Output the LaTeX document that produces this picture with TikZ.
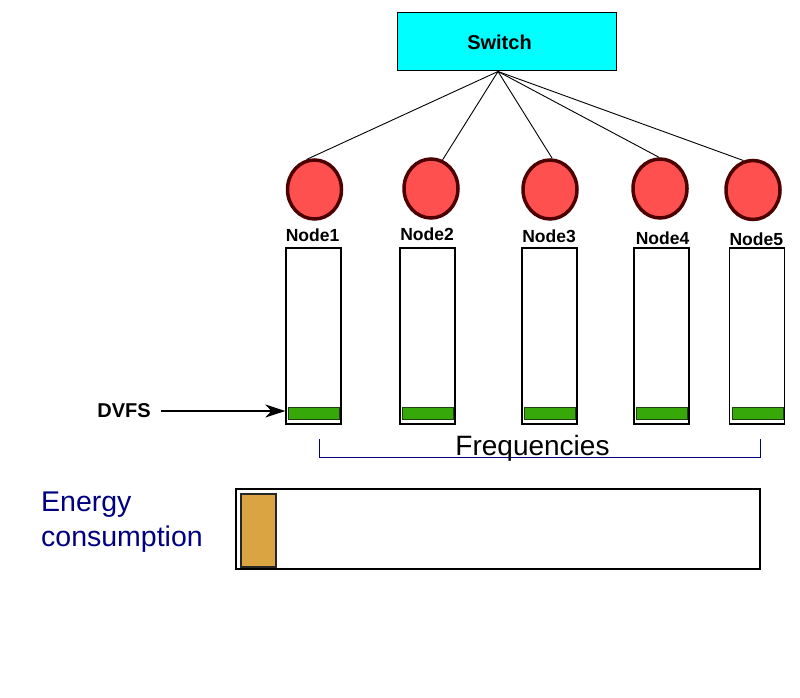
\documentclass[tikz,border=0pt]{standalone}
\usepackage{fontspec}
\setmainfont{Liberation Sans}
\usetikzlibrary{shapes.geometric,arrows.meta}
\definecolor{cyanbox}{HTML}{00FFFF}
\definecolor{nodered}{HTML}{FF5050}
\definecolor{noderim}{HTML}{4D0000}
\definecolor{bargreen}{HTML}{36A80A}
\definecolor{bargreenrim}{HTML}{1F3F0F}
\definecolor{energyfill}{HTML}{D9A441}
\definecolor{navytext}{HTML}{000080}
\begin{document}
\begin{tikzpicture}[x=1pt,y=-1pt,
  switchbox/.style={draw, fill=cyanbox, line width=1pt, minimum width=219pt, minimum height=58pt, inner sep=0pt, font=\bfseries\fontsize{20}{22}\selectfont},
  cpu/.style={ellipse, draw=noderim, fill=nodered, line width=3.5pt, minimum width=54pt, minimum height=59pt, inner sep=0pt},
  nodelabel/.style={anchor=base, inner sep=0pt, font=\bfseries\fontsize{17.5}{20}\selectfont},
  freqbox/.style={draw, line width=1.3pt, minimum width=55pt, minimum height=176pt, inner sep=0pt},
  freqbar/.style={draw=bargreenrim, fill=bargreen, line width=1pt, minimum width=51pt, minimum height=12.5pt, inner sep=0pt},
  link/.style={line width=0.9pt},
  bigtext/.style={inner sep=0pt, font=\fontsize{28.5}{32}\selectfont}
]
\useasboundingbox (0,0) rectangle (800,698);

% switch
\node[switchbox] (sw) at (506.5,42) {\hspace*{-14pt}Switch};
\coordinate (swp) at (498,71.5);

% compute nodes
\node[cpu] (n1) at (314.5,189.5) {};
\node[cpu] (n2) at (431,188.5) {};
\node[cpu] (n3) at (550,189.5) {};
\node[cpu] (n4) at (660,188.5) {};
\node[cpu] (n5) at (753,190) {};

\draw[link] (swp) -- (n1.105);
\draw[link] (swp) -- (n2.68);
\draw[link] (swp) -- (n3.86);
\draw[link] (swp) -- (n4.92);
\draw[link] (swp) -- (n5.108);

% labels
\node[nodelabel] (l1) at (312.5,241.5) {Node1};
\node[nodelabel] (l2) at (427,240.5) {Node2};
\node[nodelabel] (l3) at (549,242.5) {Node3};
\node[nodelabel] (l4) at (662.5,244) {Node4};
\node[nodelabel] (l5) at (756.3,245) {Node5};

% frequency boxes
\node[freqbox] (r1) at (313.5,336) {};
\node[freqbox] (r2) at (427.5,336) {};
\node[freqbox] (r3) at (549.5,336) {};
\node[freqbox] (r4) at (661.5,336) {};
\node[freqbox] (r5) at (757,336) {};

% green bars
\node[freqbar] (g1) at (314,413.5) {};
\node[freqbar] (g2) at (428,413.5) {};
\node[freqbar] (g3) at (550,413.5) {};
\node[freqbar] (g4) at (662,413.5) {};
\node[freqbar] (g5) at (757.5,413.5) {};

% DVFS
\node[font=\bfseries\fontsize{20}{22}\selectfont, inner xsep=10pt, inner ysep=0pt] (dvfs) at (124,411) {DVFS};
\draw[line width=2pt, -{Stealth[length=20pt,width=13pt,inset=6pt]}] (dvfs.east) -- (r1.west |- dvfs.east);

% frequencies bracket
\coordinate (fl) at (319,439);
\coordinate (fr) at (760,439);
\draw[navytext, line width=1pt] (fl) |- (fr |- 0,457) -- (fr);
\node[bigtext, anchor=base, font=\fontsize{28}{32}\selectfont] (freq) at (532.5,455) {Frequencies};

% energy
\node[draw, line width=1.5pt, minimum width=524pt, minimum height=80pt, inner sep=0pt] (ebox) at (498,529) {};
\node[draw=black!85, fill=energyfill, line width=1.5pt, minimum width=35pt, minimum height=73pt, inner sep=0pt] (ebar) at (258.5,530.5) {};
\node[bigtext, navytext, anchor=base west] (e1) at (41,511.5) {Energy};
\node[bigtext, navytext, anchor=base west] (e2) at (41,546.5) {consumption};
\end{tikzpicture}
\end{document}
